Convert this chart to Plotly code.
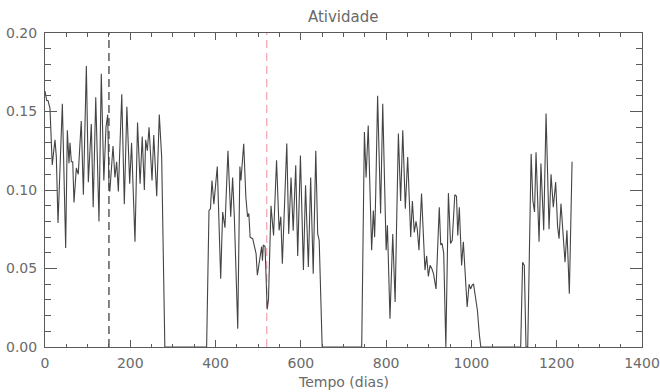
import plotly.graph_objects as go

days = [0, 4, 7, 11.7, 17, 23.4, 26.6, 30.5, 40.7, 48.5, 52.4, 56.3, 58.6, 61.8, 65, 68, 73.5, 78, 85, 90,
        97, 101.6, 108.6, 113, 119, 126.6, 132, 138, 143, 147, 150, 152, 159.5, 164, 168, 172, 180, 186, 192, 198.6,
        203, 211, 217, 223, 228, 233, 236, 240, 244, 247, 251, 255, 262, 268, 273.6, 281,
        379, 384.6, 388, 391.6, 396, 404, 412, 416.6, 422, 429, 435.5, 440, 444, 452, 457, 459.5, 466, 471, 475,
        478, 481, 487, 495, 498, 504, 508, 510, 512, 516, 521, 524, 530, 536, 543, 549, 553, 556.6, 567, 571.5,
        577, 582, 588, 592.6, 599, 606, 611, 617.6, 623, 629, 635, 639.5, 643, 650,
        742.7, 749, 753, 758, 764, 766, 770, 773, 775.5, 780, 787, 792, 800, 803, 809, 815.5, 821, 828.7, 834,
        839, 845, 850.5, 857.6, 861.5, 866, 870, 873, 877, 883, 891, 895, 899, 903, 907, 911, 917, 924.6, 928,
        931, 935, 940, 946, 951, 955, 961, 965, 968, 971.6, 977, 981, 990, 994.5, 998, 1002, 1005, 1010, 1014,
        1018.6, 1022,
        1115.5, 1120, 1124, 1128, 1132, 1140, 1144, 1148, 1151.5, 1158.6, 1163, 1169.5, 1175, 1182, 1186.7,
        1192, 1197.6, 1202, 1205.5, 1210, 1219.5, 1224, 1229.6, 1236]

activity = [0.163, 0.157, 0.157, 0.152, 0.116, 0.132, 0.121, 0.079, 0.155, 0.063, 0.138, 0.117, 0.130, 0.118, 0.118, 0.092, 0.114, 0.110, 0.144, 0.097,
            0.179, 0.105, 0.142, 0.089, 0.159, 0.080, 0.174, 0.106, 0.140, 0.148, 0.103, 0.099, 0.128, 0.108, 0.118, 0.099, 0.161, 0.091, 0.153, 0.104,
            0.130, 0.067, 0.143, 0.104, 0.134, 0.100, 0.132, 0.125, 0.140, 0.125, 0.106, 0.135, 0.096, 0.148, 0.121, 0.0,
            0.0, 0.087, 0.088, 0.106, 0.091, 0.115, 0.0435, 0.086, 0.076, 0.125, 0.083, 0.108, 0.083, 0.0117, 0.115, 0.106, 0.1295, 0.0955, 0.083,
            0.085, 0.070, 0.069, 0.0595, 0.0457, 0.059, 0.064, 0.055, 0.065, 0.064, 0.024, 0.030, 0.090, 0.071, 0.119, 0.0743, 0.083, 0.053, 0.1296, 0.072,
            0.108, 0.074, 0.1157, 0.058, 0.122, 0.049, 0.103, 0.051, 0.108, 0.0467, 0.125, 0.072, 0.068, 0.0,
            0.0, 0.137, 0.108, 0.141, 0.0786, 0.0616, 0.087, 0.070, 0.0966, 0.160, 0.085, 0.155, 0.0616, 0.0775, 0.018, 0.072, 0.0287, 0.136, 0.093,
            0.138, 0.088, 0.121, 0.070, 0.093, 0.073, 0.080, 0.075, 0.0616, 0.0977, 0.049, 0.058, 0.045, 0.052, 0.050, 0.0467, 0.037, 0.089, 0.065,
            0.066, 0.060, 0.0, 0.098, 0.066, 0.068, 0.097, 0.096, 0.071, 0.089, 0.052, 0.067, 0.0255, 0.040, 0.037, 0.0395, 0.040, 0.032, 0.0234,
            0.008, 0.0,
            0.0, 0.054, 0.052, 0.0, 0.0, 0.123, 0.0934, 0.086, 0.124, 0.067, 0.1168, 0.0743, 0.1487, 0.075, 0.110,
            0.089, 0.105, 0.077, 0.069, 0.0913, 0.054, 0.0743, 0.034, 0.118]

marker_days = [150, 520]
marker_colors = ["#333333", "#f2a2ac"]

x_ticks = [0, 200, 400, 600, 800, 1000, 1200, 1400]
y_ticks = [0.00, 0.05, 0.10, 0.15, 0.20]
y_tick_labels = ["0.00", "0.05", "0.10", "0.15", "0.20"]

TXT = "#6a6a6a"
AX = "#5a5a5a"
FONT = "DejaVu Sans"

fig = go.Figure()

for d, c in zip(marker_days, marker_colors):
    fig.add_trace(go.Scatter(x=[d, d], y=[y_ticks[0], y_ticks[-1]], mode="lines",
                             line=dict(color=c, width=1.2, dash="8px,5px"),
                             hoverinfo="skip", showlegend=False))

fig.add_trace(go.Scatter(x=days, y=activity, mode="lines",
                         line=dict(color="#444444", width=1.1),
                         showlegend=False))

fig.update_layout(
    width=660, height=392,
    margin=dict(l=45, r=18, t=33, b=45),
    paper_bgcolor="white", plot_bgcolor="white",
    font=dict(family=FONT, size=14, color=TXT),
    title=dict(text="Atividade", x=0.52, xanchor="center", y=1 - 17 / 392, yanchor="middle",
               yref="container", font=dict(family=FONT, size=15, color=TXT)),
    annotations=[dict(text="Tempo (dias)", x=0.5, xref="paper", y=-0.112, yref="paper",
                      xanchor="center", yanchor="middle", showarrow=False,
                      font=dict(family=FONT, size=14, color=TXT))],
)

fig.update_xaxes(range=[x_ticks[0], x_ticks[-1]], tickvals=x_ticks, ticks="inside", ticklen=7,
                 tickcolor=AX, showline=True, linecolor=AX, linewidth=1, mirror="ticks",
                 showgrid=False, zeroline=False, ticklabelstandoff=3, automargin=False,
                 minor=dict(ticks="inside", ticklen=3.5, dtick=50, tickcolor=AX, showgrid=False))
fig.update_yaxes(range=[y_ticks[0], y_ticks[-1]], tickvals=y_ticks, ticktext=y_tick_labels,
                 ticks="inside", ticklen=12,
                 tickcolor=AX, showline=True, linecolor=AX, linewidth=1, mirror="ticks",
                 showgrid=False, zeroline=False, ticklabelstandoff=4, automargin=False,
                 minor=dict(ticks="inside", ticklen=6, dtick=0.01, tickcolor=AX, showgrid=False))

fig.write_html("out.html")
